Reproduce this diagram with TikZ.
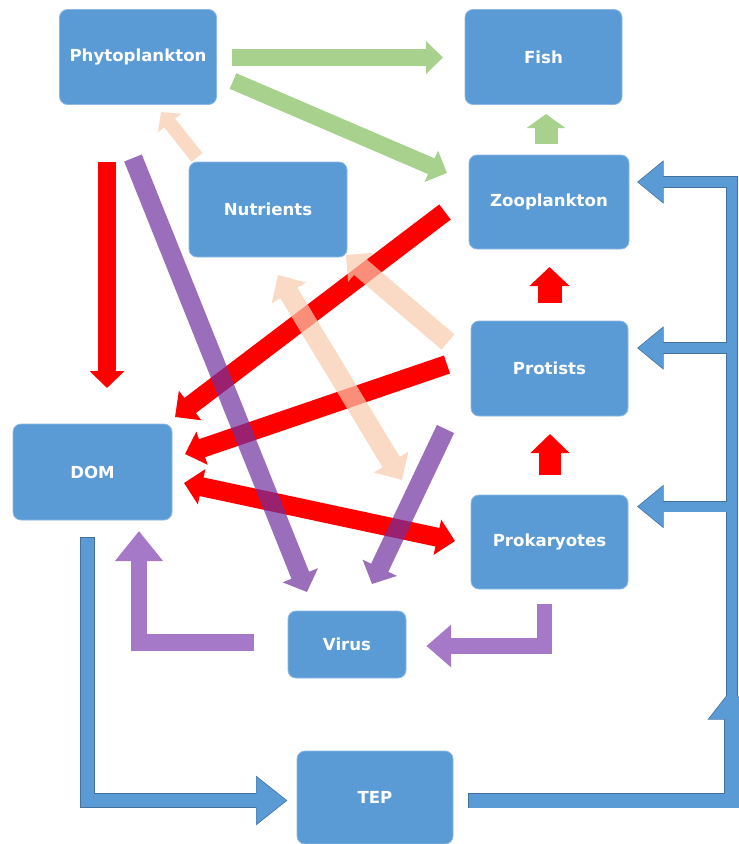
\documentclass[tikz,border=0pt]{standalone}
\usepackage{fontspec}
\setmainfont{DejaVu Sans}
\usetikzlibrary{arrows.meta,calc}
\definecolor{boxblue}{HTML}{5B9BD5}
\definecolor{boxedge}{HTML}{8DB8E3}
\definecolor{grn}{HTML}{A9D18E}
\definecolor{peach}{HTML}{F8CBAD}
\definecolor{purp}{HTML}{7030A0}
\definecolor{lilac}{HTML}{A678C8}
\definecolor{bluearr}{HTML}{5B9BD5}
\definecolor{blueline}{HTML}{41719C}
\tikzset{
  box/.style={rectangle, rounded corners=8pt, fill=boxblue, draw=boxedge, line width=0.8pt,
    inner sep=0pt, text=white, font=\fontsize{16.6}{20}\selectfont\bfseries},
  greenarrow/.style={draw=grn},
  redarrow/.style={draw=red},
  peacharrow/.style={draw=peach},
  purparrow/.style={draw=purp},
  lilacarrow/.style={draw=lilac},
  blueedge/.style={draw=blueline},
  bluearrow/.style={draw=bluearr, shorten >=1.1pt, shorten <=0.8pt},
}
\begin{document}
\begin{tikzpicture}[x=1pt,y=-1pt]
\useasboundingbox (0,0) rectangle (739,844);
\clip (0,0) rectangle (739,844);

% boxes
\node[box, minimum width=157pt, minimum height=95pt] (phyto) at (138,57) {Phytoplankton};
\node[box, minimum width=157pt, minimum height=95pt] (fish) at (543.5,57) {Fish};
\node[box, minimum width=158pt, minimum height=95pt] (nutr) at (268,209.5) {Nutrients};
\node[box, minimum width=160pt, minimum height=94pt] (zoo) at (549,202) {Zooplankton};
\node[box, minimum width=157pt, minimum height=95pt] (prot) at (549.5,368.5) {Protists};
\node[box, minimum width=157pt, minimum height=94pt] (prok) at (549.5,542) {Prokaryotes};
\node[box, minimum width=159pt, minimum height=96pt] (dom) at (92.5,472) {DOM};
\node[box, minimum width=118pt, minimum height=67pt] (virus) at (347,644.5) {Virus};
\node[box, minimum width=156pt, minimum height=93pt] (tep) at (375,797.5) {TEP};

% bus coordinates
\coordinate (busP) at (732,348);
\coordinate (busK) at (732,506.5);
\coordinate (busB) at (732,697.5);

% green
\draw[greenarrow, line width=17pt, -{Triangle[width=32pt,length=17pt]}] ($(phyto)+(94,0.5)$) -- ($(fish)+(-100.5,0.5)$);
\draw[greenarrow, line width=17pt, -{Triangle[width=33pt,length=17pt]}] ($(phyto)+(95,24)$) -- ($(zoo)+(-102,-29)$);
\draw[greenarrow, line width=23pt, -{Triangle[width=38pt,length=14pt]}] ($(zoo)+(-3,-58)$) -- ($(fish)+(2.5,57)$);

% red
\draw[redarrow, line width=18pt, -{Triangle[width=34pt,length=17pt]}] ($(phyto)+(-31,105)$) -- ($(dom)+(14.5,-84)$);
\draw[redarrow, line width=19pt, -{Triangle[width=36pt,length=19pt]}] ($(zoo)+(-104,10)$) -- ($(dom)+(82.5,-55)$);
\draw[redarrow, line width=19pt, -{Triangle[width=34pt,length=18pt]}] ($(prot)+(-102.5,-4)$) -- ($(dom)+(92.5,-18)$);
\draw[redarrow, line width=19pt, {Triangle[width=35pt,length=18pt]}-{Triangle[width=35pt,length=18pt]}] ($(dom)+(91.5,11)$) -- ($(prok)+(-94.5,-1)$);
\draw[redarrow, line width=22pt, -{Triangle[width=38pt,length=19pt]}] ($(prok)+(0.5,-67)$) -- ($(prot)+(0.5,65.5)$);
\draw[redarrow, line width=24pt, -{Triangle[width=39pt,length=19pt]}] ($(prot)+(0,-65.5)$) -- ($(zoo)+(0.5,65)$);

% peach (semi-transparent)
\begin{scope}[transparency group, opacity=0.7]
\draw[peacharrow, line width=14pt, -{Triangle[width=29pt,length=14pt]}] ($(nutr)+(-71,-52)$) -- ($(phyto)+(23,55)$);
\end{scope}
\begin{scope}[transparency group, opacity=0.7]
\draw[peacharrow, line width=20pt, -{Triangle[width=37pt,length=19pt]}] ($(prot)+(-101.5,-26.5)$) -- ($(nutr)+(78,45.5)$);
\end{scope}
\begin{scope}[transparency group, opacity=0.7]
\draw[peacharrow, line width=20pt, {Triangle[width=39pt,length=21pt]}-{Triangle[width=39pt,length=21pt]}] ($(nutr)+(10,65.5)$) -- ($(prok)+(-147.5,-62)$);
\end{scope}

% purple (semi-transparent)
\begin{scope}[transparency group, opacity=0.7]
\draw[purparrow, line width=19pt, -{Triangle[width=37pt,length=18pt]}] ($(phyto)+(-5,101)$) -- ($(virus)+(-40,-52.5)$);
\end{scope}
\begin{scope}[transparency group, opacity=0.7]
\draw[purparrow, line width=19pt, -{Triangle[width=37pt,length=18pt]}] ($(prot)+(-104,60.5)$) -- ($(virus)+(25,-60.5)$);
\end{scope}

% lilac elbows
\draw[lilacarrow, line width=16.5pt, -{Triangle[width=46pt,length=30pt]}] ($(virus)+(-93,-2)$) -| ($(dom)+(46.5,59)$);
\draw[lilacarrow, line width=15.5pt, -{Triangle[width=41pt,length=24.5pt]}] ($(prok)+(-5,62)$) |- ($(virus)+(79.5,1.5)$);

% blue: dark edge pass, then fill pass
\draw[blueedge, line width=14.6pt, -{Triangle[width=47.5pt,length=31.5pt]}] ($(dom)+(-5,65)$) |- ($(tep)+(-87.5,3)$);
\draw[blueedge, line width=11.6pt, -{Triangle[width=41.5pt,length=26.5pt]}] (busB) |- ($(zoo)+(88,-20)$);
\draw[blueedge, line width=11.6pt, -{Triangle[width=41.5pt,length=26.5pt]}] (busP) -- ($(prot)+(87.5,-20.5)$);
\draw[blueedge, line width=11.6pt, -{Triangle[width=41.5pt,length=26.5pt]}] (busK) -- ($(prok)+(87.5,-35.5)$);
\draw[blueedge, line width=15.6pt, -{Triangle[width=46.5pt,length=31.5pt]}] ($(tep)+(93,3)$) -| ($(tep)+(357,-109.5)$);

\draw[bluearrow, line width=13pt, -{Triangle[width=45pt,length=30pt]}] ($(dom)+(-5,65)$) |- ($(tep)+(-87.5,3)$);
\draw[bluearrow, line width=10pt, -{Triangle[width=39pt,length=25pt]}] (busB) |- ($(zoo)+(88,-20)$);
\draw[bluearrow, line width=10pt, -{Triangle[width=39pt,length=25pt]}] (busP) -- ($(prot)+(87.5,-20.5)$);
\draw[bluearrow, line width=10pt, -{Triangle[width=39pt,length=25pt]}] (busK) -- ($(prok)+(87.5,-35.5)$);
\draw[bluearrow, line width=14pt, -{Triangle[width=44pt,length=30pt]}] ($(tep)+(93,3)$) -| ($(tep)+(357,-109.5)$);
\end{tikzpicture}
\end{document}
